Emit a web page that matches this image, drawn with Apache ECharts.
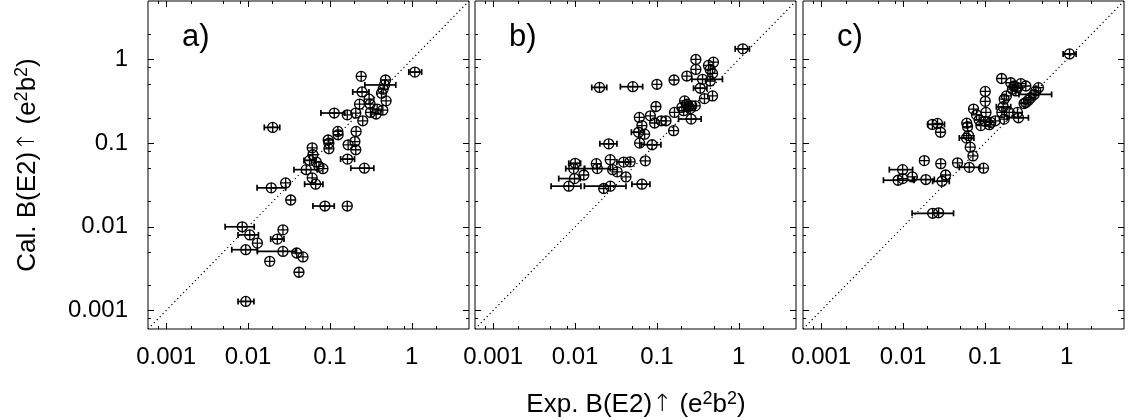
<!DOCTYPE html>
<html><head><meta charset="utf-8">
<script src="https://cdn.jsdelivr.net/npm/echarts@6/dist/echarts.min.js"></script>
<style>html,body{margin:0;padding:0;background:#fff}#c{width:1128px;height:419px}</style>
</head><body><div id="c"></div>
<script>
// ---- data ----
const majorTicks = [0.001, 0.01, 0.1, 1];
const minorTicks = [0.0008, 0.002, 0.005, 0.008, 0.02, 0.05, 0.08, 0.2, 0.5, 0.8, 2];
const tickLabels = ['0.001', '0.01', '0.1', '1'];
const panelLabels = ['a)', 'b)', 'c)'];
const axisMin = 0.0006, axisMax = 5;
const xName = 'Exp. B(E2){a|\u2191} (e{s|2}b{s|2})';
const yName = 'Cal. B(E2){a|\u2191} (e{s|2}b{s|2})';
// each point: [Exp, Cal, ExpLow, ExpHigh]  (0 = no visible error bar)
const panelA = [
  [1.09,0.707,0.92,1.32],[0.241,0.628,0,0],[0.478,0.568,0,0],[0.465,0.496,0.267,0.638],
  [0.447,0.441,0,0],[0.427,0.395,0,0],[0.486,0.320,0,0],[0.247,0.409,0.19,0.30],
  [0.301,0.335,0,0],[0.230,0.292,0,0],[0.310,0.292,0,0],[0.378,0.255,0,0],
  [0.443,0.248,0,0],[0.313,0.233,0,0],[0.367,0.223,0,0],[0.207,0.229,0,0],
  [0.163,0.218,0,0],[0.252,0.185,0,0],[0.113,0.229,0.0776,0.152],[0.125,0.138,0,0],
  [0.126,0.126,0,0],[0.209,0.138,0,0],[0.0953,0.109,0,0],[0.0972,0.0997,0,0],
  [0.202,0.1045,0,0],[0.167,0.0955,0,0],[0.207,0.0833,0,0],[0.0972,0.0856,0,0],
  [0.164,0.0644,0.135,0.200],[0.0608,0.0879,0,0],[0.0620,0.0726,0,0],[0.0565,0.0622,0.0482,0.067],
  [0.0681,0.0593,0,0],[0.0735,0.0528,0,0],[0.0822,0.0495,0,0],[0.0514,0.0482,0.0364,0.070],
  [0.264,0.0502,0.180,0.344],[0.0608,0.0384,0,0],[0.067,0.0323,0.0491,0.0822],[0.0288,0.0334,0,0],
  [0.0192,0.0292,0.0129,0.0288],[0.0332,0.0209,0,0],[0.0869,0.0177,0.062,0.113],[0.163,0.0177,0,0],
  [0.0085,0.0100,0.00525,0.0119],[0.0105,0.0080,0.00755,0.0134],[0.0267,0.0092,0,0],[0.0228,0.00713,0.0189,0.0275],
  [0.0130,0.00639,0,0],[0.00938,0.00532,0.00633,0.0130],[0.0267,0.00508,0.0130,0.0382],[0.0393,0.00486,0,0],
  [0.0469,0.00436,0,0],[0.0184,0.00386,0,0],[0.0419,0.00286,0,0],[0.00938,0.00128,0.00755,0.0118],
  [0.020,0.154,0.0158,0.0244]
];
const panelB = [
  [1.12,1.34,0.904,1.35],[0.299,1.00,0,0],[0.299,0.761,0,0],[0.491,0.929,0,0],
  [0.427,0.849,0,0],[0.448,0.761,0,0],[0.478,0.682,0,0],[0.232,0.634,0,0],
  [0.162,0.568,0,0],[0.100,0.505,0,0],[0.361,0.579,0.267,0.632],[0.448,0.553,0,0],
  [0.338,0.453,0.280,0.408],[0.0199,0.463,0.016,0.0244],[0.0508,0.473,0.0358,0.067],[0.478,0.367,0,0],
  [0.381,0.341,0,0],[0.218,0.320,0,0],[0.232,0.292,0,0],[0.244,0.274,0,0],
  [0.267,0.279,0,0],[0.202,0.267,0,0],[0.294,0.279,0,0],[0.212,0.244,0,0],
  [0.255,0.259,0,0],[0.164,0.233,0,0],[0.0973,0.274,0,0],[0.262,0.194,0.184,0.347],
  [0.061,0.203,0,0],[0.0832,0.212,0,0],[0.0938,0.174,0,0],[0.113,0.185,0,0],
  [0.129,0.185,0,0],[0.0656,0.162,0,0],[0.0598,0.135,0.0488,0.0689],[0.0708,0.128,0,0],
  [0.160,0.141,0,0],[0.0258,0.0981,0.0201,0.0325],[0.0615,0.100,0,0],[0.0873,0.0957,0.0641,0.112],
  [0.01005,0.0574,0.00838,0.0117],[0.0182,0.0568,0,0],[0.0269,0.0634,0,0],[0.0393,0.0593,0.0325,0.0478],
  [0.0471,0.0597,0,0],[0.0723,0.0614,0,0],[0.00964,0.0496,0.0077,0.0131],[0.0187,0.0496,0.013,0.027],
  [0.0288,0.0482,0,0],[0.0327,0.0454,0,0],[0.0128,0.0416,0,0],[0.00985,0.0377,0.00632,0.0116],
  [0.0419,0.0394,0,0],[0.00838,0.0306,0.0051,0.0118],[0.0224,0.0287,0,0],[0.027,0.0306,0.013,0.0419],
  [0.0656,0.0323,0.0495,0.0822]
];
const panelC = [
  [1.08,1.165,0.902,1.30],[0.160,0.592,0,0],[0.207,0.527,0,0],[0.228,0.482,0,0],
  [0.250,0.460,0,0],[0.217,0.441,0,0],[0.275,0.514,0,0],[0.239,0.421,0,0],
  [0.316,0.482,0,0],[0.451,0.460,0,0],[0.419,0.421,0,0],[0.399,0.382,0.260,0.653],
  [0.364,0.350,0,0],[0.340,0.326,0,0],[0.316,0.306,0,0],[0.301,0.297,0,0],
  [0.101,0.415,0,0],[0.101,0.316,0,0],[0.183,0.367,0,0],[0.172,0.335,0,0],
  [0.167,0.272,0.138,0.207],[0.0726,0.255,0,0],[0.079,0.218,0,0],[0.103,0.233,0,0],
  [0.161,0.233,0,0],[0.198,0.233,0,0],[0.250,0.233,0,0],[0.172,0.194,0,0],
  [0.257,0.201,0.187,0.340],[0.0851,0.189,0,0],[0.101,0.182,0,0],[0.118,0.177,0,0],
  [0.134,0.185,0,0],[0.0893,0.162,0,0],[0.113,0.166,0,0],[0.060,0.173,0,0],
  [0.0614,0.157,0,0],[0.0228,0.1675,0.020,0.0321],[0.0264,0.172,0,0],[0.0287,0.135,0,0],
  [0.0631,0.123,0,0],[0.0597,0.115,0.0487,0.0734],[0.0662,0.0894,0,0],[0.0714,0.0703,0,0],
  [0.0182,0.0618,0,0],[0.0289,0.0568,0,0],[0.0463,0.0581,0,0],[0.0644,0.0514,0.0487,0.0865],
  [0.0961,0.0502,0,0],[0.00989,0.0482,0.0068,0.0131],[0.013,0.0394,0,0],[0.00869,0.036,0.00576,0.0136],
  [0.00989,0.0377,0,0],[0.019,0.0367,0.0137,0.0241],[0.0299,0.035,0.023,0.0367],[0.0331,0.0416,0,0],
  [0.023,0.0145,0.0129,0.0414],[0.0272,0.0147,0,0]
];
const panels = [panelA, panelB, panelC];

// ---- chart ----
const FONT = '"Liberation Sans", Arial, Helvetica, sans-serif';
const grids = [
  {left: 148, top: 1, width: 321, height: 328},
  {left: 475, top: 1, width: 321, height: 328},
  {left: 803, top: 1, width: 321, height: 328}
];
const xAxes = [], yAxes = [], series = [];
const symbolPath = 'path://M10,5A5,5 0 1 1 0,5A5,5 0 1 1 10,5ZM5,0L5,10M0,5L10,5';

function axisBase(gi, pos, ticks, len, labels) {
  return {
    gridIndex: gi, type: 'log', logBase: 10, min: axisMin, max: axisMax, position: pos,
    axisLine: {show: false}, splitLine: {show: false},
    axisTick: {show: true, inside: true, length: len, customValues: ticks, lineStyle: {color: '#000', width: 1}},
    axisLabel: labels ? {show: true, customValues: majorTicks, color: '#000', fontSize: 24, fontFamily: FONT,
      formatter: v => tickLabels[majorTicks.findIndex(t => Math.abs(Math.log10(t) - Math.log10(v)) < 1e-6)] || ''} : {show: false}
  };
}

panels.forEach((data, gi) => {
  const xi = xAxes.length, yi = yAxes.length;
  const lx = axisBase(gi, 'bottom', majorTicks, 6, true);
  lx.axisLabel.margin = 16;
  xAxes.push(lx);
  xAxes.push(axisBase(gi, 'bottom', minorTicks, 3, false));
  xAxes.push(axisBase(gi, 'top', majorTicks, 6, false));
  xAxes.push(axisBase(gi, 'top', minorTicks, 3, false));
  const ly = axisBase(gi, 'left', majorTicks, 6, gi === 0);
  if (gi === 0) ly.axisLabel.margin = 20;
  yAxes.push(ly);
  yAxes.push(axisBase(gi, 'left', minorTicks, 3, false));
  yAxes.push(axisBase(gi, 'right', majorTicks, 6, false));
  yAxes.push(axisBase(gi, 'right', minorTicks, 3, false));

  series.push({
    type: 'line', xAxisIndex: xi, yAxisIndex: yi, silent: true, symbol: 'none',
    data: [[axisMin, axisMin], [axisMax, axisMax]],
    lineStyle: {color: '#000', width: 1.2, type: [1.2, 3]}, z: 1
  });
  series.push({
    type: 'custom', xAxisIndex: xi, yAxisIndex: yi, z: 2,
    data: data.filter(d => d[2] > 0),
    encode: {x: 0, y: 1},
    renderItem: function (params, api) {
      const y = api.value(1), lo = api.value(2), hi = api.value(3);
      const p1 = api.coord([lo, y]), p2 = api.coord([hi, y]);
      const c = 3, st = {stroke: '#000', lineWidth: 1.7};
      return {type: 'group', children: [
        {type: 'line', shape: {x1: p1[0], y1: p1[1], x2: p2[0], y2: p2[1]}, style: st},
        {type: 'line', shape: {x1: p1[0], y1: p1[1] - c, x2: p1[0], y2: p1[1] + c}, style: st},
        {type: 'line', shape: {x1: p2[0], y1: p2[1] - c, x2: p2[0], y2: p2[1] + c}, style: st}
      ]};
    }
  });
  series.push({
    type: 'scatter', xAxisIndex: xi, yAxisIndex: yi, z: 3,
    data: data.map(d => [d[0], d[1]]),
    symbol: symbolPath, symbolSize: 10,
    itemStyle: {color: 'rgba(0,0,0,0)', borderColor: '#000', borderWidth: 1.3, opacity: 1}
  });
});

const graphics = [];
panelLabels.forEach((t, i) => {
  graphics.push({type: 'text', x: grids[i].left + 34, y: 37,
    style: {text: t, fontSize: 31, fontFamily: FONT, fill: '#000', align: 'left', verticalAlign: 'middle'}});
});
const rich = {
  s: {fontSize: 18, fontFamily: FONT, verticalAlign: 'top', padding: [0, 0, 12, 0]},
  a: {fontSize: 24, fontFamily: '"DejaVu Sans", sans-serif', fontWeight: 'lighter'}
};
graphics.push({type: 'text', x: 636, y: 405,
  style: {text: xName, fontSize: 26, fontFamily: FONT, fill: '#000', align: 'center', verticalAlign: 'middle', rich: rich}});
graphics.push({type: 'text', x: 28, y: 165, rotation: Math.PI / 2,
  style: {text: yName, fontSize: 26, fontFamily: FONT, fill: '#000', align: 'center', verticalAlign: 'middle', rich: rich}});

const chart = echarts.init(document.getElementById('c'));
chart.setOption({
  animation: false,
  backgroundColor: '#fff',
  grid: grids.map(g => Object.assign({show: true, borderColor: '#000', borderWidth: 1, backgroundColor: 'transparent'}, g)),
  xAxis: xAxes,
  yAxis: yAxes,
  series: series,
  graphic: graphics
});
</script></body></html>
